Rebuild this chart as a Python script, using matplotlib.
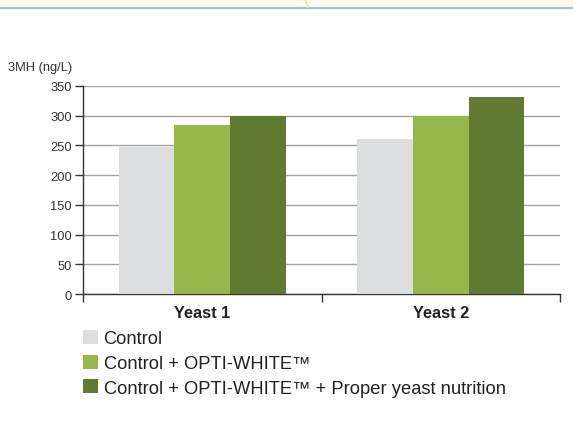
import matplotlib.pyplot as plt
import matplotlib.patches as mpatches
from matplotlib.lines import Line2D
import numpy as np

plt.rcParams['font.family'] = ['Liberation Sans', 'DejaVu Sans']

# datos
grupos = ['Yeast 1', 'Yeast 2']
series = ['Control', 'Control + OPTI-WHITE™', 'Control + OPTI-WHITE™ + Proper yeast nutrition']
valores = [
    [247, 261],   # Control
    [285, 300],   # + OPTI-WHITE
    [300, 331],   # + nutrition
]
colores = ['#DCDDDF', '#97B74D', '#617A31']
y_ticks = [0, 50, 100, 150, 200, 250, 300, 350]

fig = plt.figure(figsize=(5.73, 4.39), dpi=100)

# banda decorativa superior
fig.patches.append(mpatches.Rectangle((0, 1 - 8 / 439), 1, 8 / 439, transform=fig.transFigure,
                                      facecolor='#FFFCEB', edgecolor='none', zorder=0))
fig.lines.append(Line2D([0, 1], [1 - 9 / 439, 1 - 9 / 439], transform=fig.transFigure,
                        color='#9DC3D6', lw=1.6))
fig.lines.append(Line2D([305 / 573, 308 / 573], [1, 1 - 8 / 439], transform=fig.transFigure,
                        color='#DDEBB5', lw=1.2))

ax = fig.add_axes([83 / 573, 1 - 295 / 439, (560 - 83) / 573, (295 - 87) / 439])

x = np.arange(len(grupos))
w = 0.234
for i, (serie, vals) in enumerate(zip(series, valores)):
    ax.bar(x + (i - 1) * w, vals, width=w, color=colores[i], label=serie, zorder=3)

ax.set_xlim(-0.5, 1.5)
ax.set_ylim(0, 350)
ax.set_yticks(y_ticks)
ax.yaxis.grid(True, color='#A3A3A3', lw=1, zorder=0)
ax.set_axisbelow(True)

ax.set_xticks(x)
ax.set_xticklabels(grupos, fontsize=11.8, fontweight='bold', color='#222222')
ax.set_xticks([-0.5, 0.5, 1.5], minor=True)
ax.tick_params(axis='x', which='major', length=0, pad=8)
ax.tick_params(axis='x', which='minor', length=6, width=1, color='#333333')
ax.tick_params(axis='y', length=6, width=1, color='#333333', labelsize=9.3,
               labelcolor='#333333', pad=2)

for s in ['top', 'right']:
    ax.spines[s].set_visible(False)
for s in ['left', 'bottom']:
    ax.spines[s].set_color('#333333')
    ax.spines[s].set_linewidth(1)

fig.text(8 / 573, 1 - 68 / 439, '3MH (ng/L)', fontsize=9.3, color='#333333', va='center', ha='left')

fig.legend(loc='upper left', bbox_to_anchor=(83 / 573, 1 - 331 / 439), frameon=False,
           fontsize=13.2, handlelength=0.8, handleheight=0.8, handletextpad=0.32,
           labelspacing=0.4, borderaxespad=0, borderpad=0, labelcolor='#222222')

fig.savefig('out.png', dpi=100)
